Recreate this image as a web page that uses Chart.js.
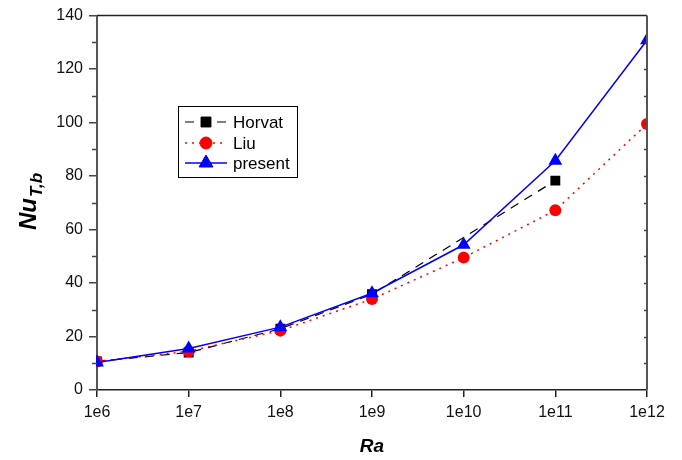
<!DOCTYPE html>
<html>
<head>
<meta charset="utf-8">
<script src="https://cdn.jsdelivr.net/npm/chart.js@4.4.0/dist/chart.umd.min.js"></script>
<style>
  html, body { margin: 0; padding: 0; background: #fff; }
  #wrap { width: 682px; height: 460px; }
</style>
</head>
<body>
<div id="wrap"><canvas id="nuChart" width="682" height="460"></canvas></div>
<script>
// Rayleigh numbers (x) and Nusselt numbers
const raValues = [1e6, 1e7, 1e8, 1e9, 1e10, 1e11, 1e12];
// Horvat has no value at 1e10 or 1e12
const horvatNu = [10.7, 14.0, 22.9, 35.8, null, 78.3, null];
const liuNu = [10.7, 14.5, 22.2, 34.0, 49.5, 67.2, 99.5];
const presentNu = [10.3, 15.5, 23.5, 36.2, 54.3, 85.7, 130.8];
const xTickValues = [1e6, 1e7, 1e8, 1e9, 1e10, 1e11, 1e12];
const yTickValues = [0, 20, 40, 60, 80, 100, 120, 140];

const FONT = '"Liberation Sans", Arial, sans-serif';

const toPoints = (vals) => vals.map((v, i) => ({ x: raValues[i], y: v }));

// frame, minor ticks, axis titles and the legend box
const extrasPlugin = {
  id: 'extras',
  afterDraw(chart) {
    const { ctx, chartArea: a, scales } = chart;
    const y = scales.y;
    ctx.save();
    // top and right borders
    ctx.strokeStyle = '#222';
    ctx.lineWidth = 1.5;
    ctx.beginPath();
    ctx.moveTo(a.left, a.top);
    ctx.lineTo(a.right, a.top);
    ctx.stroke();
    ctx.strokeStyle = '#555';
    ctx.lineWidth = 2;
    ctx.beginPath();
    ctx.moveTo(a.right, a.top);
    ctx.lineTo(a.right, a.bottom);
    ctx.stroke();
    // minor ticks on left (outward) and right (inward)
    ctx.lineWidth = 1.5;
    ctx.strokeStyle = '#444';
    for (let v = 0; v <= 140; v += 10) {
      const py = Math.round(y.getPixelForValue(v)) + 0.5;
      if (v % 20 !== 0) {
        ctx.beginPath();
        ctx.moveTo(a.left - 5, py);
        ctx.lineTo(a.left, py);
        ctx.stroke();
      }
      if (v > 0 && v < 140) {
        ctx.beginPath();
        ctx.moveTo(a.right - 3, py);
        ctx.lineTo(a.right, py);
        ctx.stroke();
      }
    }
    // x title
    ctx.fillStyle = '#000';
    ctx.font = 'italic bold 19px ' + FONT;
    ctx.textAlign = 'center';
    ctx.textBaseline = 'middle';
    ctx.fillText('Ra', (a.left + a.right) / 2, 447);
    // y title with subscript
    ctx.translate(28, 202);
    ctx.rotate(-Math.PI / 2);
    ctx.textAlign = 'left';
    ctx.textBaseline = 'alphabetic';
    const big = 'italic bold 24px ' + FONT;
    const small = 'italic bold 17px ' + FONT;
    ctx.font = big;
    const w1 = ctx.measureText('Nu').width;
    ctx.font = small;
    const w2 = ctx.measureText('T,b').width;
    const x0 = -(w1 + w2) / 2;
    ctx.font = big;
    ctx.fillText('Nu', x0, 8);
    ctx.font = small;
    ctx.fillText('T,b', x0 + w1 + 1, 14);
    ctx.restore();

    // legend
    ctx.save();
    ctx.fillStyle = '#fff';
    ctx.fillRect(178, 106, 119, 71);
    ctx.strokeStyle = '#000';
    ctx.lineWidth = 1;
    ctx.strokeRect(178.5, 106.5, 119, 71);
    const rows = [122, 143, 163];
    chart.data.datasets.forEach((ds, i) => {
      const ry = rows[i];
      ctx.strokeStyle = ds.borderColor;
      ctx.lineWidth = ds.borderWidth;
      ctx.setLineDash(ds.borderDash || []);
      ctx.beginPath();
      ctx.moveTo(185, ry);
      ctx.lineTo(227, ry);
      ctx.stroke();
      ctx.setLineDash([]);
      ctx.fillStyle = ds.pointBackgroundColor;
      ctx.strokeStyle = ds.pointBackgroundColor;
      ctx.lineWidth = 1;
      Chart.helpers.drawPoint(ctx, { pointStyle: ds.pointStyle, radius: ds.pointRadius, rotation: 0, borderWidth: 1 }, 206, ry);
      ctx.fillStyle = '#000';
      ctx.font = '17px ' + FONT;
      ctx.textAlign = 'left';
      ctx.textBaseline = 'middle';
      ctx.fillText(ds.label, 233, ry + 1);
    });
    ctx.restore();
  }
};

new Chart(document.getElementById('nuChart').getContext('2d'), {
  type: 'line',
  data: {
    datasets: [
      {
        label: 'Horvat',
        data: toPoints(horvatNu),
        spanGaps: true,
        borderColor: '#000',
        borderWidth: 1.2,
        borderDash: [9, 7],
        pointStyle: 'rect',
        pointRadius: 7,
        pointBackgroundColor: '#000',
        pointBorderColor: '#000',
        pointBorderWidth: 0,
        order: 3,
        clip: 1
      },
      {
        label: 'Liu',
        data: toPoints(liuNu),
        borderColor: '#ff0000',
        borderWidth: 1.5,
        borderDash: [2, 5],
        pointStyle: 'circle',
        pointRadius: 6,
        pointBackgroundColor: '#ff0000',
        pointBorderColor: '#ff0000',
        pointBorderWidth: 0,
        order: 2,
        clip: 1
      },
      {
        label: 'present',
        data: toPoints(presentNu),
        borderColor: '#0000ff',
        borderWidth: 1.5,
        pointStyle: 'triangle',
        pointRadius: 8,
        pointBackgroundColor: '#0000ff',
        pointBorderColor: '#0000ff',
        pointBorderWidth: 0,
        order: 1,
        clip: 1
      }
    ]
  },
  options: {
    responsive: false,
    animation: false,
    layout: { padding: { top: 11, right: 35, left: 0, bottom: 0 } },
    plugins: { legend: { display: false }, tooltip: { enabled: false } },
    scales: {
      x: {
        type: 'logarithmic',
        min: 1e6,
        max: 1e12,
        afterBuildTicks: (s) => { s.ticks = xTickValues.map(v => ({ value: v })); },
        afterFit: (s) => { s.height = 70; },
        ticks: {
          callback: (v) => '1e' + Math.round(Math.log10(v)),
          color: '#111',
          font: { family: FONT, size: 16 },
          padding: 6,
          maxRotation: 0,
          autoSkip: false
        },
        grid: { drawOnChartArea: false, tickLength: 7, color: '#222', lineWidth: 1.5 },
        border: { display: true, color: '#222', width: 1.5 }
      },
      y: {
        min: 0,
        max: 140,
        afterBuildTicks: (s) => { s.ticks = yTickValues.map(v => ({ value: v })); },
        afterFit: (s) => { s.width = 97; },
        ticks: {
          color: '#111',
          font: { family: FONT, size: 16 },
          padding: 6
        },
        grid: { drawOnChartArea: false, tickLength: 8, color: '#444', lineWidth: 1.5 },
        border: { display: true, color: '#555', width: 2 }
      }
    }
  },
  plugins: [extrasPlugin]
});
</script>
</body>
</html>
